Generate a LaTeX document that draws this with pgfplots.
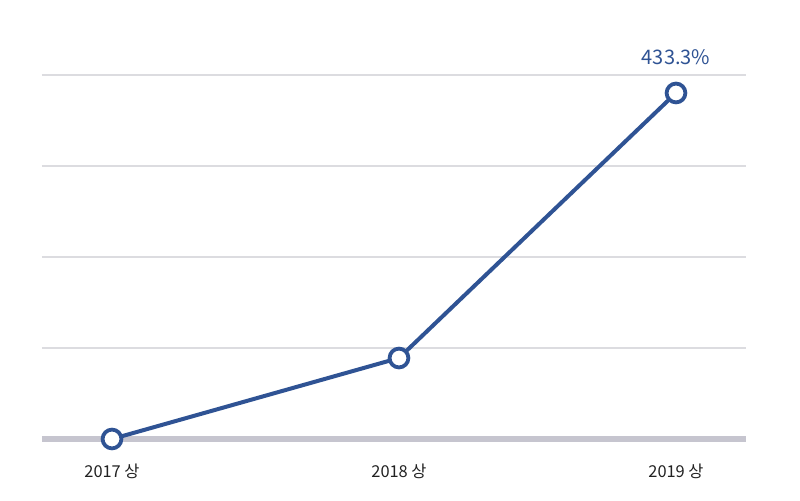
\documentclass[border=0pt]{standalone}
\usepackage{pgfplots}
\pgfplotsset{compat=1.18}
\usepackage{fontspec}
\setmainfont{Noto Sans CJK KR}
\definecolor{lineblue}{HTML}{2F5394}
\definecolor{basegray}{HTML}{C6C5CF}
\definecolor{gridgray}{HTML}{DCDCE0}
\definecolor{labeltext}{HTML}{222222}
\begin{document}
\begin{tikzpicture}
\path[fill=white] (0pt,0pt) rectangle (400pt,250pt);
\begin{axis}[
  at={(21pt,30.5pt)}, anchor=south west,
  scale only axis, width=352pt, height=182pt,
  xmin=-0.2439, xmax=2.2091,
  ymin=0, ymax=455.8,
  axis line style={draw=none},
  tick style={draw=none},
  clip=false,
  xtick={0,1,1.9652},
  xticklabels={2017 상,2018 상,2019 상},
  x tick label style={text=labeltext, font=\fontsize{8.2pt}{10pt}\selectfont, yshift=-9pt},
  ytick={113.95,227.9,341.85,455.8},
  yticklabels={},
  ymajorgrids,
  grid style={color=gridgray, line width=0.6pt},
  /pgf/number format/assume math mode=true,
]
\draw[color=basegray, line width=2.6pt] (axis cs:-0.2439,0) -- (axis cs:2.2091,0);
\addplot[color=lineblue, line width=2pt, mark=*, mark size=4.7pt,
  mark options={fill=white, draw=lineblue, line width=1.9pt}]
  coordinates {(0,0) (1,101.4) (1.9652,433.3)};
\node[text=lineblue, font=\fontsize{10pt}{12pt}\selectfont] at (axis cs:1.9652,433.3) [yshift=18pt] {433.3\%};
\end{axis}
\end{tikzpicture}
\end{document}
